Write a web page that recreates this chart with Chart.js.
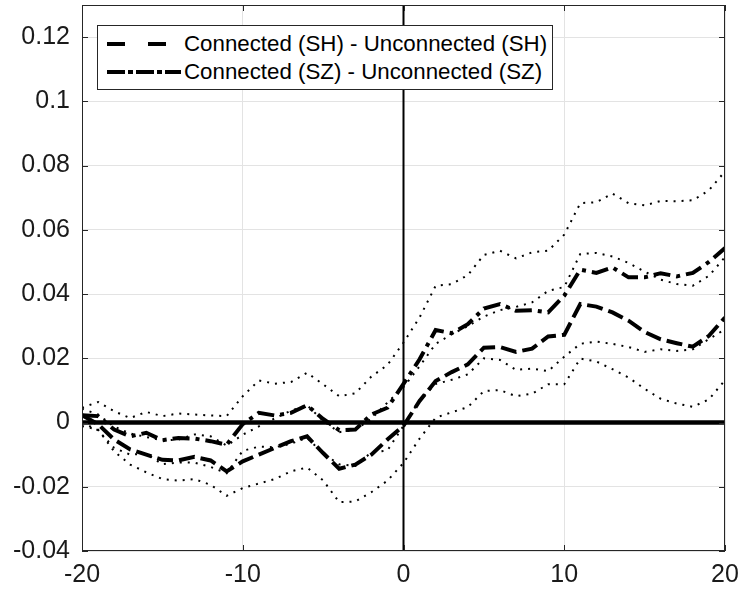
<!DOCTYPE html>
<html>
<head>
<meta charset="utf-8">
<script src="https://cdn.jsdelivr.net/npm/chart.js@4/dist/chart.umd.min.js"></script>
<style>
  html, body { margin:0; padding:0; background:#fff; }
  #wrap { position:relative; width:742px; height:593px; }
  #c { display:block; }
  #legend { position:absolute; left:97px; top:25px; width:456px; height:65px; box-sizing:border-box;
            border:1px solid #262626; background:#fff; font-family:"Liberation Sans", Arial, sans-serif; font-size:22.3px; color:#000; }
  .row { position:absolute; left:0; height:28px; display:flex; align-items:center; white-space:nowrap; }
  .row svg { margin-left:9px; margin-right:3px; }
</style>
</head>
<body>
<div id="wrap">
  <canvas id="c" width="742" height="593"></canvas>
  <div id="legend">
    <div class="row" style="top:4px"><svg width="74" height="10"><line x1="0" y1="5" x2="74" y2="5" stroke="#000" stroke-width="4" stroke-dasharray="18,23"/></svg><span id="l1"></span></div>
    <div class="row" style="top:32px"><svg width="74" height="10"><line x1="0" y1="5" x2="74" y2="5" stroke="#000" stroke-width="4" stroke-dasharray="18,3,5,3"/></svg><span id="l2"></span></div>
  </div>
</div>
<script>
// ---- data ----
const xs = [-20,-19,-18,-17,-16,-15,-14,-13,-12,-11,-10,-9,-8,-7,-6,-5,-4,-3,-2,-1,0,1,2,3,4,5,6,7,8,9,10,11,12,13,14,15,16,17,18,19,20];
const seriesLabels = ["Connected (SH) - Unconnected (SH)", "Connected (SZ) - Unconnected (SZ)"];
const xTicks = [-20,-10,0,10,20];
const yTicks = [-0.04,-0.02,0,0.02,0.04,0.06,0.08,0.1,0.12];

// SH difference (dashed)
const sh = [0.0023,-0.0005,-0.0053,-0.0084,-0.0100,-0.0116,-0.0118,-0.0107,-0.0118,-0.0152,-0.0121,-0.0100,-0.0079,-0.0058,-0.0043,-0.0095,-0.0144,-0.0131,-0.0100,-0.0053,-0.0010,
            0.0067,0.0129,0.0157,0.0181,0.0233,0.0235,0.0220,0.0230,0.0268,0.0273,0.0369,0.0361,0.0343,0.0317,0.0282,0.0259,0.0247,0.0236,0.0270,0.0327];
const shUpper = [0.0043,0.0025,-0.0013,-0.0034,-0.0045,-0.0056,-0.0053,-0.0037,-0.0043,-0.0072,-0.0038,-0.0012,0.0013,0.0037,0.0054,0.0005,-0.0030,-0.0023,0.0012,0.0062,0.0110,
            0.0175,0.0245,0.0275,0.0300,0.0330,0.0350,0.0360,0.0374,0.0410,0.0422,0.0525,0.0528,0.0517,0.0497,0.0470,0.0445,0.0431,0.0426,0.0457,0.0515];
const shLower = [-0.0011,-0.0022,-0.0090,-0.0131,-0.0155,-0.0176,-0.0181,-0.0176,-0.0194,-0.0228,-0.0204,-0.0190,-0.0176,-0.0152,-0.0140,-0.0180,-0.0248,-0.0246,-0.0217,-0.0181,-0.0126,
            -0.0050,0.0015,0.0032,0.0048,0.0098,0.0101,0.0082,0.0090,0.0119,0.0119,0.0199,0.0190,0.0166,0.0140,0.0105,0.0074,0.0059,0.0049,0.0072,0.0132];

// SZ difference (dash-dot)
const sz = [0.0023,0.0020,-0.0022,-0.0043,-0.0032,-0.0055,-0.0048,-0.0050,-0.0058,-0.0069,-0.0005,0.0030,0.0022,0.0030,0.0054,0.0011,-0.0024,-0.0022,0.0025,0.0046,0.0120,
            0.0197,0.0288,0.0278,0.0306,0.0355,0.0369,0.0348,0.0350,0.0343,0.0395,0.0476,0.0466,0.0483,0.0452,0.0452,0.0465,0.0455,0.0466,0.0500,0.0543];
const szUpper = [0.0046,0.0064,0.0035,0.0014,0.0033,0.0020,0.0028,0.0025,0.0022,0.0020,0.0082,0.0131,0.0121,0.0126,0.0155,0.0119,0.0082,0.0091,0.0143,0.0179,0.0249,
            0.0327,0.0426,0.0431,0.0459,0.0522,0.0535,0.0511,0.0530,0.0535,0.0585,0.0683,0.0686,0.0713,0.0683,0.0676,0.0690,0.0689,0.0692,0.0723,0.0782];
const szLower = [0.0000,-0.0024,-0.0079,-0.0100,-0.0097,-0.0130,-0.0124,-0.0125,-0.0138,-0.0158,-0.0088,-0.0075,-0.0077,-0.0066,-0.0047,-0.0097,-0.0130,-0.0135,-0.0093,-0.0087,-0.0010,
            0.0070,0.0120,0.0133,0.0150,0.0200,0.0195,0.0164,0.0168,0.0160,0.0205,0.0245,0.0252,0.0245,0.0235,0.0220,0.0228,0.0223,0.0228,0.0260,0.0290];

// reference lines
const zeroLineX = [-20, 20];
const vertLineY = [-0.04, 0.13];

document.getElementById('l1').textContent = seriesLabels[0];
document.getElementById('l2').textContent = seriesLabels[1];

const pts = arr => arr.map((v,i)=>({x:xs[i], y:v}));
const FONT = "'Liberation Sans', Arial, Helvetica, sans-serif";

const dotted = d => ({ data: pts(d), borderColor:'#000', borderWidth:2, borderDash:[2,6], borderCapStyle:'butt', pointRadius:0, tension:0, fill:false });

const framePlugin = {
  id:'frame',
  afterDatasetsDraw(chart){
    const {ctx, chartArea:a, scales:{x, y}} = chart;
    ctx.save();
    ctx.strokeStyle = '#262626';
    ctx.lineWidth = 1;
    ctx.setLineDash([]);
    ctx.strokeRect(a.left+0.5, a.top+0.5, a.right-a.left-1, a.bottom-a.top-1);
    ctx.beginPath();
    y.ticks.forEach(t => {
      const p = Math.round(y.getPixelForValue(t.value)) + 0.5;
      ctx.moveTo(a.left, p); ctx.lineTo(a.left+6, p);
      ctx.moveTo(a.right, p); ctx.lineTo(a.right-6, p);
    });
    x.ticks.forEach(t => {
      const p = Math.round(x.getPixelForValue(t.value)) + 0.5;
      ctx.moveTo(p, a.bottom); ctx.lineTo(p, a.bottom-6);
      ctx.moveTo(p, a.top); ctx.lineTo(p, a.top+6);
    });
    ctx.stroke();
    ctx.restore();
  }
};

const noPad = s => { s.paddingTop = 0; s.paddingBottom = 0; s.paddingLeft = 0; s.paddingRight = 0; };

new Chart(document.getElementById('c'), {
  type:'line',
  data:{
    datasets:[
      { label: seriesLabels[0], data: pts(sh), borderColor:'#000', borderWidth:4, borderDash:[16,6], borderCapStyle:'butt', pointRadius:0, tension:0, fill:false },
      { label: seriesLabels[1], data: pts(sz), borderColor:'#000', borderWidth:4, borderDash:[17,6,4,6], borderCapStyle:'butt', pointRadius:0, tension:0, fill:false },
      dotted(shUpper), dotted(shLower), dotted(szUpper), dotted(szLower),
      { data: zeroLineX.map(v=>({x:v, y:0})), borderColor:'#000', borderWidth:4.5, pointRadius:0, fill:false },
      { data: vertLineY.map(v=>({x:0, y:v})), borderColor:'#000', borderWidth:2, pointRadius:0, fill:false }
    ]
  },
  options:{
    responsive:false,
    devicePixelRatio:1,
    animation:false,
    layout:{ padding:{ top:5, right:17, left:0, bottom:0 } },
    plugins:{ legend:{ display:false }, tooltip:{ enabled:false } },
    scales:{
      x:{
        type:'linear', min:-20, max:20,
        afterBuildTicks: s => { s.ticks = xTicks.map(v=>({value:v})); },
        afterFit: s => { s.height = 42; noPad(s); },
        grid:{ color:'#e3e3e3', lineWidth:1, drawTicks:false },
        border:{ display:false },
        ticks:{ font:{ family:FONT, size:25 }, color:'#1a1a1a', padding:9, maxRotation:0,
                callback: v => String(v) }
      },
      y:{
        type:'linear', min:-0.04, max:0.13,
        afterBuildTicks: s => { s.ticks = yTicks.map(v=>({value:v})); },
        afterFit: s => { s.width = 82; noPad(s); },
        grid:{ color:'#e3e3e3', lineWidth:1, drawTicks:false },
        border:{ display:false },
        ticks:{ font:{ family:FONT, size:25 }, color:'#1a1a1a', padding:12,
                callback: v => String(Math.round(v*100)/100) }
      }
    }
  },
  plugins:[framePlugin]
});
</script>
</body>
</html>
